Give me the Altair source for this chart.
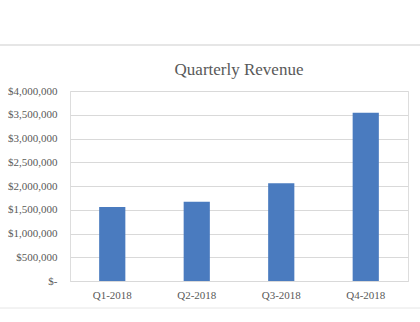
import altair as alt
import pandas as pd

quarters = ["Q1-2018", "Q2-2018", "Q3-2018", "Q4-2018"]
revenue = [1560000, 1670000, 2060000, 3540000]

df = pd.DataFrame({"quarter": quarters, "revenue": revenue})

FONT = "Liberation Serif"
GRAY = "#595959"

bars = alt.Chart(df).mark_bar(color="#4A7BBF").encode(
    x=alt.X("quarter:N", sort=quarters, title=None,
            scale=alt.Scale(paddingInner=0.69, paddingOuter=0.345),
            axis=alt.Axis(labelAngle=0, labelFont=FONT, labelFontSize=11,
                          labelColor=GRAY, labelPadding=8, ticks=False,
                          domainColor="#d9d9d9", domainWidth=1)),
    y=alt.Y("revenue:Q", title=None,
            scale=alt.Scale(domain=[0, 4000000]),
            axis=alt.Axis(values=[0, 500000, 1000000, 1500000, 2000000, 2500000,
                                  3000000, 3500000, 4000000],
                          labelExpr="datum.value == 0 ? '$-' : format(datum.value, '$,')",
                          labelFont=FONT, labelFontSize=11, labelColor=GRAY,
                          labelPadding=13, ticks=False, domain=False,
                          gridColor="#d9d9d9", gridWidth=1)),
)

border = alt.Chart(pd.DataFrame({"y": [0]})).mark_rule(color="#e6e6e6", strokeWidth=2).encode(
    x=alt.value(-70), x2=alt.value(350), y=alt.value(-46)
)
border2 = alt.Chart(pd.DataFrame({"y": [0]})).mark_rule(color="#e6e6e6", strokeWidth=1).encode(
    x=alt.value(-70), x2=alt.value(350), y=alt.value(217)
)

chart = alt.layer(bars, border, border2).properties(
    width=338, height=190,
    title=alt.TitleParams("Quarterly Revenue", font=FONT, fontSize=17,
                          fontWeight="normal", color=GRAY, anchor="middle",
                          offset=-35, frame="group"),
    autosize=alt.AutoSizeParams(type="none"),
    padding={"left": 70, "top": 91, "right": 12, "bottom": 41},
).configure_view(stroke=None).configure(background="white")

chart.save("out.html", embed_options={"renderer": "svg", "actions": False})
